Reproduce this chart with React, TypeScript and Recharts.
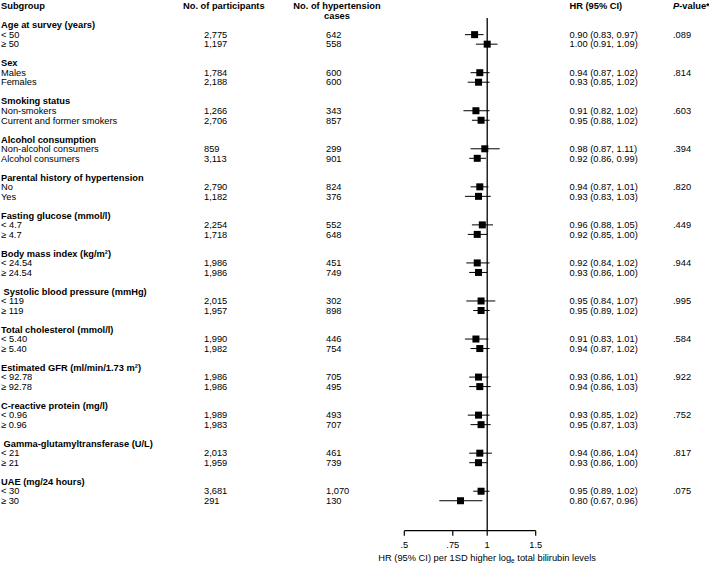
import React from "react";
import { ScatterChart, Scatter, ErrorBar, XAxis, YAxis, ReferenceLine } from "recharts";

const groupNames = [
  "Age at survey (years)",
  "Sex",
  "Smoking status",
  "Alcohol consumption",
  "Parental history of hypertension",
  "Fasting glucose (mmol/l)",
  "Body mass index (kg/m²)",
  " Systolic blood pressure (mmHg)",
  "Total cholesterol (mmol/l)",
  "Estimated GFR (ml/min/1.73 m²)",
  "C-reactive protein (mg/l)",
  " Gamma-glutamyltransferase (U/L)",
  "UAE (mg/24 hours)",
];

const subgroupLabels = [
  "< 50", "≥ 50",
  "Males", "Females",
  "Non-smokers", "Current and former smokers",
  "Non-alcohol consumers", "Alcohol consumers",
  "No", "Yes",
  "< 4.7", "≥ 4.7",
  "< 24.54", "≥ 24.54",
  "< 119", "≥ 119",
  "< 5.40", "≥ 5.40",
  "< 92.78", "≥ 92.78",
  "< 0.96", "≥ 0.96",
  "< 21", "≥ 21",
  "< 30", "≥ 30",
];

const participants = [
  "2,775", "1,197", "1,784", "2,188", "1,266", "2,706", "859", "3,113", "2,790", "1,182",
  "2,254", "1,718", "1,986", "1,986", "2,015", "1,957", "1,990", "1,982", "1,986", "1,986",
  "1,989", "1,983", "2,013", "1,959", "3,681", "291",
];

const hypertensionCases = [
  "642", "558", "600", "600", "343", "857", "299", "901", "824", "376",
  "552", "648", "451", "749", "302", "898", "446", "754", "705", "495",
  "493", "707", "461", "739", "1,070", "130",
];

const hrValues = [
  0.90, 1.00, 0.94, 0.93, 0.91, 0.95, 0.98, 0.92, 0.94, 0.93,
  0.96, 0.92, 0.92, 0.93, 0.95, 0.95, 0.91, 0.94, 0.93, 0.94,
  0.93, 0.95, 0.94, 0.93, 0.95, 0.80,
];

const ciLower = [
  0.83, 0.91, 0.87, 0.85, 0.82, 0.88, 0.87, 0.86, 0.87, 0.83,
  0.88, 0.85, 0.84, 0.86, 0.84, 0.89, 0.83, 0.87, 0.86, 0.86,
  0.85, 0.87, 0.86, 0.86, 0.89, 0.67,
];

const ciUpper = [
  0.97, 1.09, 1.02, 1.02, 1.02, 1.02, 1.11, 0.99, 1.01, 1.03,
  1.05, 1.00, 1.02, 1.00, 1.07, 1.02, 1.01, 1.02, 1.01, 1.03,
  1.02, 1.03, 1.04, 1.00, 1.02, 0.96,
];

const pValues = [
  ".089", ".814", ".603", ".394", ".820", ".449", ".944",
  ".995", ".584", ".922", ".752", ".817", ".075",
];

const xTicks = [0.5, 0.75, 1, 1.5];

const FONT = '"Liberation Sans", Arial, Helvetica, sans-serif';
const FS = 9.3;
const INK = "#000";

// each group takes 4 rows: header, two subgroups, blank
type Row = { slot: number; kind: "group" | "sub"; idx: number };
const rows: Row[] = [];
groupNames.forEach((_, g) => {
  rows.push({ slot: g * 4, kind: "group", idx: g });
  rows.push({ slot: g * 4 + 1, kind: "sub", idx: g * 2 });
  rows.push({ slot: g * 4 + 2, kind: "sub", idx: g * 2 + 1 });
});
const rowBySlot = new Map(rows.map((r) => [r.slot, r]));

const points = subgroupLabels.map((_, i) => ({
  slot: Math.floor(i / 2) * 4 + 1 + (i % 2),
  hr: hrValues[i],
  err: [hrValues[i] - ciLower[i], ciUpper[i] - hrValues[i]],
}));

const fmt = (v: number) => v.toFixed(2);

const COL = { label: 1, n: 204, cases: 326, hr: 569.5, p: 673 };

function RowTick(props: any) {
  const { y, payload } = props;
  const row = rowBySlot.get(Number(payload.value));
  if (!row) return null;
  const common = { fontFamily: FONT, fontSize: FS, fill: INK, dy: "0.35em", style: { whiteSpace: "pre" as const } };
  if (row.kind === "group") {
    return (
      <text x={COL.label} y={y} fontWeight="bold" {...common}>
        {groupNames[row.idx]}
      </text>
    );
  }
  const i = row.idx;
  const first = i % 2 === 0;
  return (
    <g>
      <text x={COL.label} y={y} {...common}>{subgroupLabels[i]}</text>
      <text x={COL.n} y={y} {...common}>{participants[i]}</text>
      <text x={COL.cases} y={y} {...common}>{hypertensionCases[i]}</text>
      <text x={COL.hr} y={y} {...common}>
        {`${fmt(hrValues[i])} (${fmt(ciLower[i])}, ${fmt(ciUpper[i])})`}
      </text>
      {first && <text x={COL.p} y={y} {...common}>{pValues[Math.floor(i / 2)]}</text>}
    </g>
  );
}

const Square = (props: any) => {
  const { cx, cy } = props;
  return <rect x={cx - 3.5} y={cy - 3.5} width={7} height={7} fill={INK} />;
};

export default function App() {
  const t = { fontFamily: FONT, fontSize: FS, fill: INK };
  return (
    <div style={{ position: "absolute", left: 0, top: 0, width: 709, height: 568, background: "#fff" }}>
      <ScatterChart
        width={709}
        height={568}
        margin={{ top: 18, right: 173.3, bottom: 7.3, left: 403.3 }}
      >
        <XAxis
          type="number"
          dataKey="hr"
          scale="log"
          domain={[0.5, 1.5]}
          allowDataOverflow
          ticks={xTicks}
          interval={0}
          height={30}
          tickSize={5}
          tickMargin={6}
          stroke={INK}
          axisLine={{ stroke: INK, strokeWidth: 1.2 }}
          tickLine={{ stroke: INK, strokeWidth: 1.2 }}
          tick={{ fontFamily: FONT, fontSize: FS, fill: INK }}
          tickFormatter={(v: number) => (v === 1 ? "1" : String(v).replace(/^0/, ""))}
        />
        <YAxis
          type="number"
          dataKey="slot"
          domain={[-0.75, 53.15]}
          reversed
          allowDataOverflow
          ticks={rows.map((r) => r.slot)}
          interval={0}
          width={1}
          axisLine={false}
          tickLine={false}
          tick={(p: any) => <RowTick {...p} />}
        />
        <ReferenceLine x={1} stroke={INK} strokeWidth={1.3} />
        <Scatter data={points} shape={<Square />} isAnimationActive={false}>
          <ErrorBar dataKey="err" direction="x" width={0} stroke={INK} strokeWidth={1} />
        </Scatter>
      </ScatterChart>
      <svg
        width={709}
        height={568}
        style={{ position: "absolute", left: 0, top: 0, pointerEvents: "none" }}
      >
        <g {...t} fontWeight="bold">
          <text x={1} y={6} dy="0.35em">Subgroup</text>
          <text x={183} y={6} dy="0.35em">No. of participants</text>
          <text x={337} y={6} dy="0.35em" textAnchor="middle">No. of hypertension</text>
          <text x={337} y={16} dy="0.35em" textAnchor="middle">cases</text>
          <text x={569.5} y={6} dy="0.35em">HR (95% CI)</text>
          <text x={673} y={6} dy="0.35em">
            <tspan fontStyle="italic">P</tspan>-value*
          </text>
        </g>
        <text x={378.3} y={557.5} dy="0.35em" {...t}>
          HR (95% CI) per 1SD higher log
          <tspan fontSize={6.5} dy={2.5}>e</tspan>
          <tspan dy={-2.5}> total bilirubin levels</tspan>
        </text>
      </svg>
    </div>
  );
}
